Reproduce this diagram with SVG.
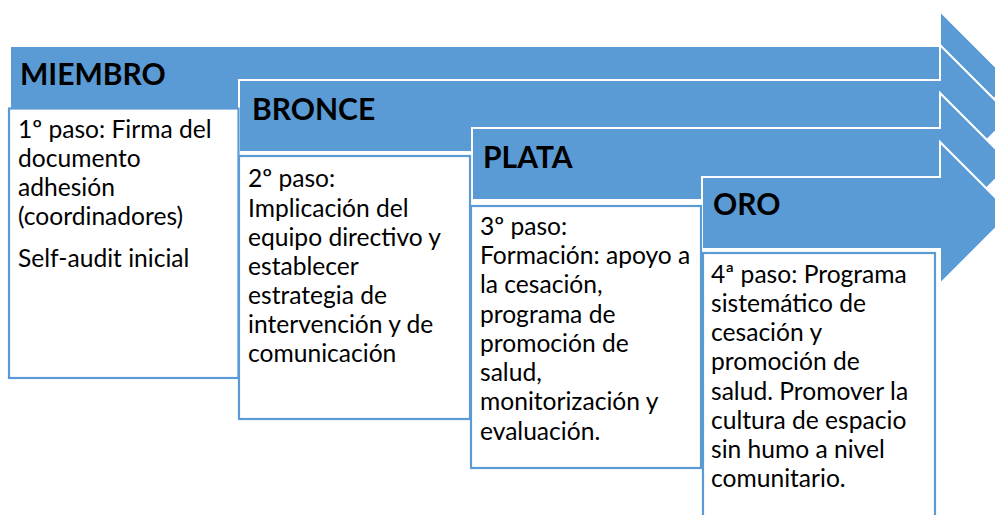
<svg xmlns="http://www.w3.org/2000/svg" width="995" height="515" viewBox="0 0 995 515">
<style>
.arrow{fill:#5B9BD5;stroke:#FFFFFF;stroke-width:2;stroke-linejoin:miter}
.box{fill:#FFFFFF;stroke:#5B9BD5;stroke-width:2.2}
.head{font-family:Lato,"Liberation Sans",sans-serif;font-weight:bold;font-size:30px;fill:#000}
.body{font-family:Lato,"Liberation Sans",sans-serif;font-size:24.6px;fill:#000}
</style>
<rect width="995" height="515" fill="#FFFFFF"/>
<g id="connectors"/>
<g id="arrow-miembro">
<polygon class="arrow" points="10,46 940,46 940,11 1011,82 940,153 940,118 10,118"/>
</g>
<g id="arrow-bronce">
<polygon class="arrow" points="239,80 940,80 940,45 1011,116 940,187 940,152 239,152"/>
</g>
<g id="arrow-plata">
<polygon class="arrow" points="472,128 940,128 940,93 1011,164 940,235 940,200 472,200"/>
</g>
<g id="arrow-oro">
<polygon class="arrow" points="702,177 940,177 940,142 1011,213 940,284 940,249 702,249"/>
</g>
<g id="node-miembro">
<rect class="box" x="9" y="108.5" width="229.5" height="269.5"/>
<text class="head" x="20" y="85">MIEMBRO</text>
<text class="body" x="18">
<tspan x="18" y="138">1º paso: Firma del</tspan>
<tspan x="18" y="167">documento</tspan>
<tspan x="18" y="196">adhesión</tspan>
<tspan x="18" y="225">(coordinadores)</tspan>
<tspan x="18" y="267">Self-audit inicial</tspan>
</text>
</g>
<g id="node-bronce">
<rect class="box" x="239" y="156" width="231" height="263"/>
<text class="head" x="252" y="120">BRONCE</text>
<text class="body">
<tspan x="248" y="187">2º paso:</tspan>
<tspan x="248" y="216.5">Implicación del</tspan>
<tspan x="248" y="246">equipo directivo y</tspan>
<tspan x="248" y="275">establecer</tspan>
<tspan x="248" y="304">estrategia de</tspan>
<tspan x="248" y="333">intervención y de</tspan>
<tspan x="248" y="362">comunicación</tspan>
</text>
</g>
<g id="node-plata">
<rect class="box" x="471" y="206" width="230" height="262"/>
<text class="head" x="483" y="168">PLATA</text>
<text class="body">
<tspan x="480" y="235">3º paso:</tspan>
<tspan x="480" y="264">Formación: apoyo a</tspan>
<tspan x="480" y="293">la cesación,</tspan>
<tspan x="480" y="322.5">programa de</tspan>
<tspan x="480" y="352">promoción de</tspan>
<tspan x="480" y="381">salud,</tspan>
<tspan x="480" y="410">monitorización y</tspan>
<tspan x="480" y="439.5">evaluación.</tspan>
</text>
</g>
<g id="node-oro">
<rect class="box" x="703" y="253" width="232" height="275"/>
<text class="head" x="713" y="215">ORO</text>
<text class="body">
<tspan x="711" y="283">4ª paso: Programa</tspan>
<tspan x="711" y="312">sistemático de</tspan>
<tspan x="711" y="341">cesación y</tspan>
<tspan x="711" y="370">promoción de</tspan>
<tspan x="711" y="399.5">salud. Promover la</tspan>
<tspan x="711" y="429">cultura de espacio</tspan>
<tspan x="711" y="458">sin humo a nivel</tspan>
<tspan x="711" y="487">comunitario.</tspan>
</text>
</g>
</svg>
